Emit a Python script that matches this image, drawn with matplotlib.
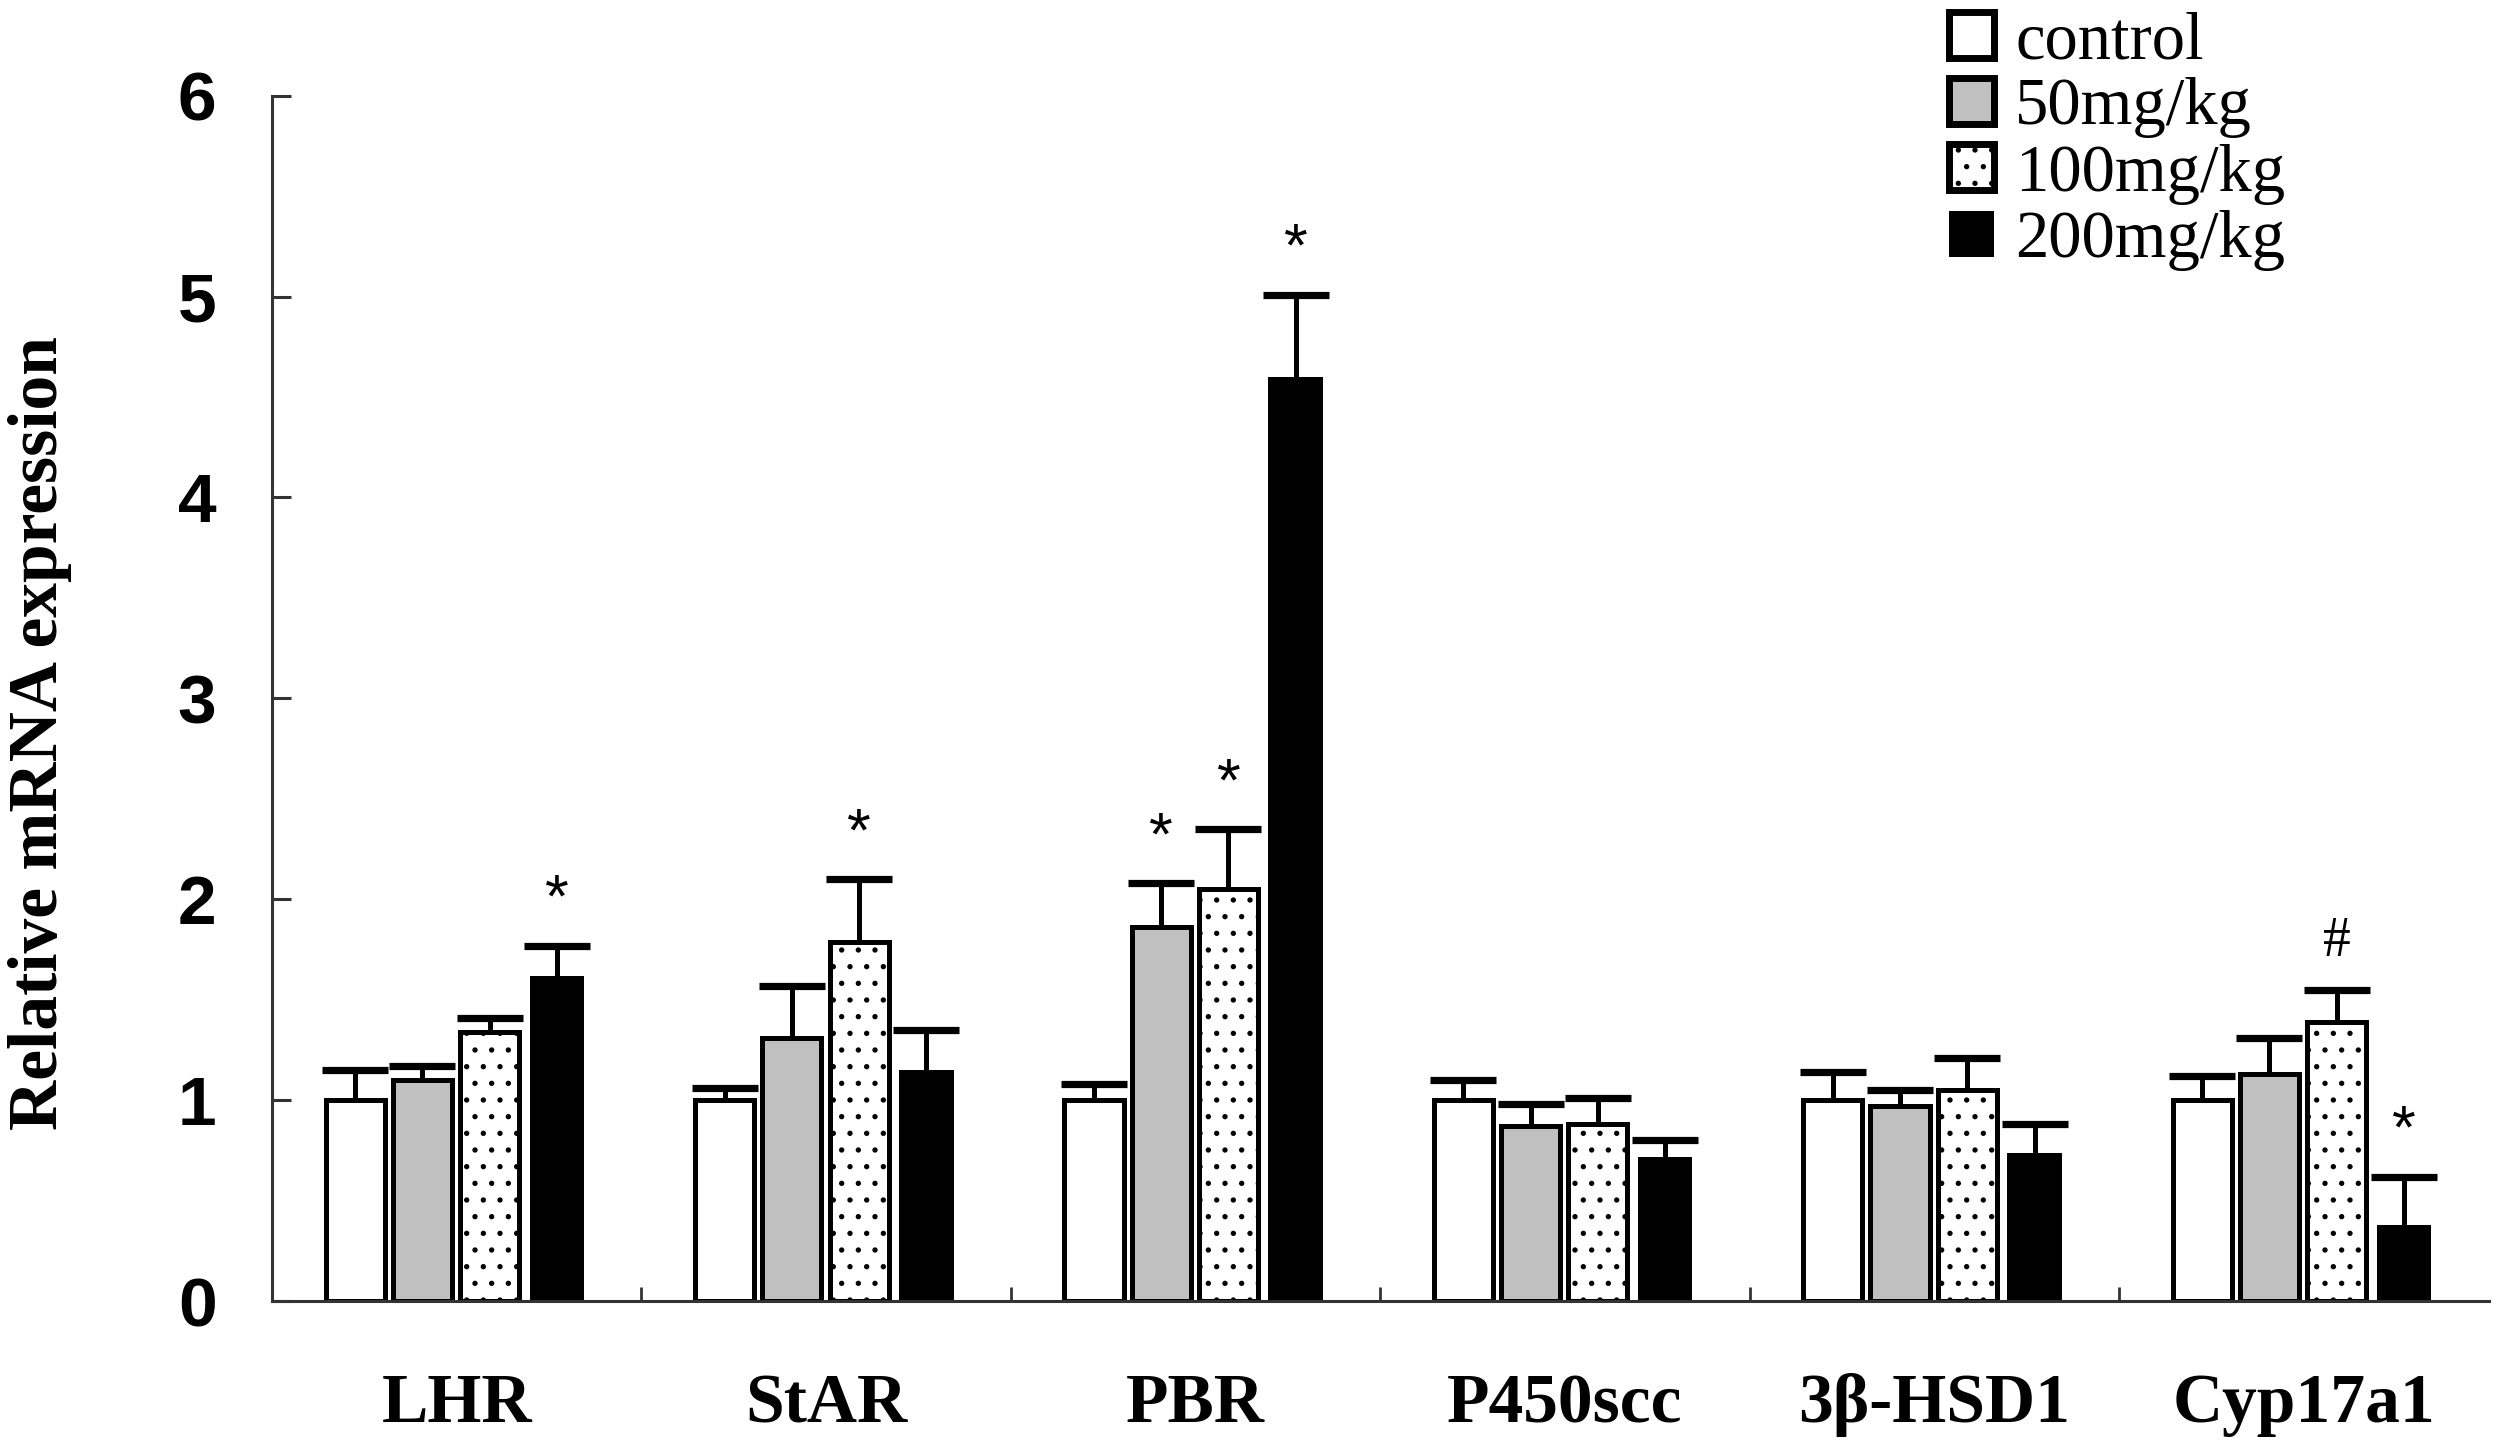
import numpy as np
import matplotlib.pyplot as plt
from matplotlib.patches import Patch

genes = ['LHR', 'StAR', 'PBR', 'P450scc', '3β-HSD1', 'Cyp17a1']
groups = ['control', '50mg/kg', '100mg/kg', '200mg/kg']

control = [1.00, 1.00, 1.00, 1.00, 1.00, 1.00]
dose50 = [1.10, 1.31, 1.86, 0.87, 0.97, 1.13]
dose100 = [1.34, 1.79, 2.05, 0.88, 1.05, 1.39]
dose200 = [1.62, 1.15, 4.60, 0.72, 0.74, 0.38]

err_control = [0.15, 0.06, 0.08, 0.10, 0.14, 0.12]
err50 = [0.07, 0.26, 0.22, 0.11, 0.08, 0.18]
err100 = [0.07, 0.31, 0.30, 0.13, 0.16, 0.16]
err200 = [0.15, 0.20, 0.41, 0.08, 0.14, 0.24]

# significance marks: (gene index, group index, symbol)
marks = [(0, 3, '*'), (1, 2, '*'), (2, 1, '*'), (2, 2, '*'), (2, 3, '*'),
         (5, 2, '#'), (5, 3, '*')]

values = [control, dose50, dose100, dose200]
errors = [err_control, err50, err100, err200]

plt.rcParams['font.family'] = 'Liberation Serif'
plt.rcParams['hatch.linewidth'] = 0.7

fig = plt.figure(figsize=(12.48, 7.245), dpi=200)
ax = fig.add_axes([0.109, 0.102, 0.888, 0.832])

x = np.arange(len(genes))
offsets = (np.arange(4) - 1.5) * 0.182 - 0.002
styles = [
    dict(color='white', edgecolor='black', linewidth=1.8, width=0.16),
    dict(color='#c0c0c0', edgecolor='black', linewidth=1.8, width=0.16),
    dict(color='white', edgecolor='black', linewidth=1.8, width=0.16, hatch='..'),
    dict(color='black', edgecolor='black', linewidth=0, width=0.148),
]

for k in range(4):
    ax.bar(x + offsets[k], values[k], zorder=2, **styles[k])
    eb = ax.errorbar(x + offsets[k], values[k],
                     yerr=[np.zeros(len(genes)), errors[k]],
                     fmt='none', ecolor='black', elinewidth=1.8,
                     capsize=12, capthick=2.6, zorder=3)
    eb[1][0].set_visible(False)  # no cap at the bar top

for gi, k, sym in marks:
    top = values[k][gi] + errors[k][gi]
    if sym == '*':
        ax.text(x[gi] + offsets[k], top + 0.22, sym, ha='center', va='center',
                fontsize=22, family='Liberation Sans')
    else:
        ax.text(x[gi] + offsets[k], top + 0.24, sym, ha='center', va='center',
                fontsize=20)

ax.set_xlim(-0.5, 5.5)
ax.set_ylim(0, 6)
ax.set_yticks(range(7))
ax.set_yticklabels([str(i) for i in range(7)], family='Liberation Sans',
                   fontweight='bold', fontsize=25)
ax.set_xticks(x)
ax.set_xticklabels(genes, fontweight='bold', fontsize=25)
ax.set_xticks(np.arange(0.5, 5.0, 1.0), minor=True)
ax.tick_params(axis='x', which='major', length=0, pad=26)
ax.tick_params(axis='x', which='minor', direction='in', length=5,
               width=1.0, color='#333333')
ax.tick_params(axis='y', direction='in', length=7, width=1.1,
               color='#333333', pad=20)

for s in ['top', 'right']:
    ax.spines[s].set_visible(False)
for s in ['left', 'bottom']:
    ax.spines[s].set_linewidth(1.1)
    ax.spines[s].set_color('#333333')

fig.text(0.016, 0.494, 'Relative mRNA expression', rotation=90,
         ha='center', va='center', fontweight='bold', fontsize=25)

handles = [
    Patch(facecolor='white', edgecolor='black', linewidth=2.5),
    Patch(facecolor='#c0c0c0', edgecolor='black', linewidth=2.5),
    Patch(facecolor='white', edgecolor='black', linewidth=2.5, hatch='..'),
    Patch(facecolor='black', edgecolor='black', linewidth=0),
]
fig.legend(handles, groups, loc='upper left', bbox_to_anchor=(0.778, 0.997),
           frameon=False, fontsize=24, handlelength=0.68, handleheight=0.68,
           handletextpad=0.32, labelspacing=0.08, borderpad=0.1,
           borderaxespad=0)

fig.savefig('out.png', dpi=200)
